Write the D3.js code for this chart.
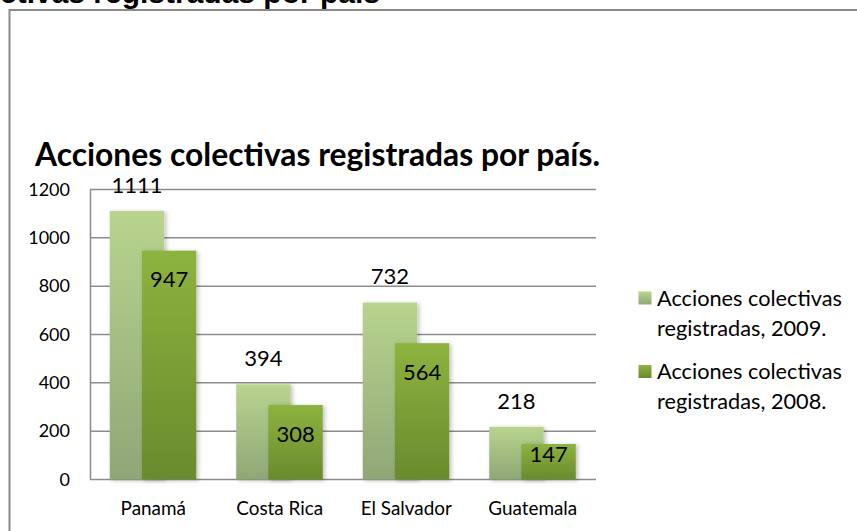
<!DOCTYPE html>
<html>
<head>
<meta charset="utf-8">
<script src="https://cdn.jsdelivr.net/npm/d3@7/dist/d3.min.js"></script>
<style>
  html, body { margin: 0; padding: 0; background: #fff; }
  svg { display: block; }
</style>
</head>
<body>
<svg id="chart" width="857" height="531"></svg>
<script>
// Collective actions registered per country, 2009 vs 2008
const categories = ["Panamá", "Costa Rica", "El Salvador", "Guatemala"];
const values2009 = [1111, 394, 732, 218];
const values2008 = [947, 308, 564, 147];
const seriesLines = [
  ["Acciones colectivas", "registradas, 2009."],
  ["Acciones colectivas", "registradas, 2008."]
];
const yTicks = [0, 200, 400, 600, 800, 1000, 1200];
const chartTitle = "Acciones colectivas registradas por país.";
const headerText = "ctivas registradas por país";

const svg = d3.select("#chart");
const FONT = "Lato, 'Open Sans', sans-serif";

// scale a text's font size so that its width equals the target
function fitWidth(sel, base, target) {
  const w = sel.node().getComputedTextLength();
  const s = base * target / w;
  sel.style("font-size", s.toFixed(2) + "px");
  return s;
}

// gradients for bars
const defs = svg.append("defs");
function grad(id, top, bottom) {
  const g = defs.append("linearGradient").attr("id", id)
    .attr("x1", 0).attr("y1", 0).attr("x2", 0).attr("y2", 1);
  g.append("stop").attr("offset", "0%").attr("stop-color", top);
  g.append("stop").attr("offset", "100%").attr("stop-color", bottom);
}
grad("gLight", "#b8d48e", "#8fa776");
grad("gDark", "#8db33f", "#6a8a2d");
const sh = defs.append("filter").attr("id", "shadow")
  .attr("x", "-20%").attr("y", "-20%").attr("width", "150%").attr("height", "140%");
sh.append("feDropShadow").attr("dx", 2).attr("dy", 1).attr("stdDeviation", 2)
  .attr("flood-color", "#000").attr("flood-opacity", 0.25);

// header line above the frame
const header = svg.append("text")
  .attr("x", 0).attr("y", 3)
  .style("font-family", "'Liberation Sans', Arial, sans-serif")
  .style("font-weight", "bold")
  .style("font-size", "23px")
  .attr("fill", "#000")
  .text(headerText);
fitWidth(header, 23, 380);

// chart frame
svg.append("rect")
  .attr("x", 9.5).attr("y", 10)
  .attr("width", 900).attr("height", 600)
  .attr("fill", "none").attr("stroke", "#8a8a8a").attr("stroke-width", 2);

// title
const title = svg.append("text")
  .attr("x", 35).attr("y", 166)
  .style("font-family", FONT).style("font-weight", "bold")
  .style("font-size", "30px").attr("fill", "#000")
  .text(chartTitle);
fitWidth(title, 30, 565);

// scales
const plot = { left: 90, right: 596, top: 189.5, bottom: 479.5 };
const x = d3.scaleBand().domain(categories).range([plot.left, plot.right]);
const y = d3.scaleLinear().domain([0, 1200]).range([plot.bottom, plot.top]);

// gridlines
svg.append("g").selectAll("line").data(yTicks).join("line")
  .attr("x1", plot.left).attr("x2", plot.right)
  .attr("y1", d => y(d)).attr("y2", d => y(d))
  .attr("stroke", "#8c8c8c").attr("stroke-width", 1.5);

// y axis
const yAxis = svg.append("g")
  .attr("transform", `translate(${plot.left},0)`)
  .call(d3.axisLeft(y).tickValues(yTicks).tickFormat(d3.format("d")).tickSize(0).tickPadding(20));
yAxis.select(".domain").attr("stroke", "#8c8c8c").attr("stroke-width", 1.5);
yAxis.selectAll("text").style("font-family", FONT).style("font-size", "18px").attr("fill", "#000");

// x axis labels
const xAxis = svg.append("g")
  .attr("transform", `translate(0,${plot.bottom})`)
  .call(d3.axisBottom(x).tickSize(0).tickPadding(22));
xAxis.select(".domain").remove();
const catText = xAxis.selectAll("text").style("font-family", FONT).style("font-size", "17px").attr("fill", "#000");
{
  const crNode = catText.filter(d => d === "Costa Rica");
  const s = fitWidth(crNode, 17, 87);
  catText.style("font-size", s.toFixed(2) + "px");
}

// bars
const bw = x.bandwidth() * 0.43;
const lightOff = -x.bandwidth() * 0.344;
const darkOff = -x.bandwidth() * 0.09;
const center = c => x(c) + x.bandwidth() / 2;

const data = categories.map((c, i) => ({ c, v9: values2009[i], v8: values2008[i] }));

svg.append("g").selectAll("rect").data(data).join("rect")
  .attr("x", d => center(d.c) + lightOff)
  .attr("y", d => y(d.v9))
  .attr("width", bw)
  .attr("height", d => y(0) - y(d.v9))
  .attr("fill", "url(#gLight)")
  .attr("filter", "url(#shadow)");

svg.append("g").selectAll("rect").data(data).join("rect")
  .attr("x", d => center(d.c) + darkOff)
  .attr("y", d => y(d.v8))
  .attr("width", bw)
  .attr("height", d => y(0) - y(d.v8))
  .attr("fill", "url(#gDark)")
  .attr("filter", "url(#shadow)");

// value labels: 2009 above its bar, 2008 inside the top end
svg.append("g").selectAll("text").data(data).join("text")
  .attr("x", d => center(d.c) + lightOff + bw / 2)
  .attr("y", d => y(d.v9) - 26)
  .attr("dy", "0.35em")
  .attr("text-anchor", "middle")
  .style("font-family", FONT).style("font-size", "22px").attr("fill", "#000")
  .text(d => d.v9);

svg.append("g").selectAll("text").data(data).join("text")
  .attr("x", d => center(d.c) + darkOff + bw / 2)
  .attr("y", d => {
    const h = y(0) - y(d.v8);
    return y(d.v8) + Math.min(29, Math.max(10, h - 25));
  })
  .attr("dy", "0.35em")
  .attr("text-anchor", "middle")
  .style("font-family", FONT).style("font-size", "22px").attr("fill", "#000")
  .text(d => d.v8);

// legend
const legend = svg.append("g");
const legendFills = ["url(#gLight)", "url(#gDark)"];
const legendY = [298, 371.5];
let legendSize = 19;
seriesLines.forEach((lines, i) => {
  legend.append("rect")
    .attr("x", 638.5).attr("y", legendY[i] - 6.5)
    .attr("width", 13).attr("height", 13)
    .attr("fill", legendFills[i]);
  const t = legend.append("text")
    .attr("x", 657).attr("y", legendY[i])
    .style("font-family", FONT).style("font-size", "19px").attr("fill", "#000");
  t.selectAll("tspan").data(lines).join("tspan")
    .attr("x", 657)
    .attr("dy", (d, j) => j === 0 ? "0.35em" : "30px")
    .text(d => d);
});
{
  const probe = legend.append("text").style("font-family", FONT).style("font-size", "19px")
    .text(seriesLines[0][0]);
  legendSize = fitWidth(probe, 19, 185);
  probe.remove();
  legend.selectAll("text").style("font-size", legendSize.toFixed(2) + "px");
}
</script>
</body>
</html>
